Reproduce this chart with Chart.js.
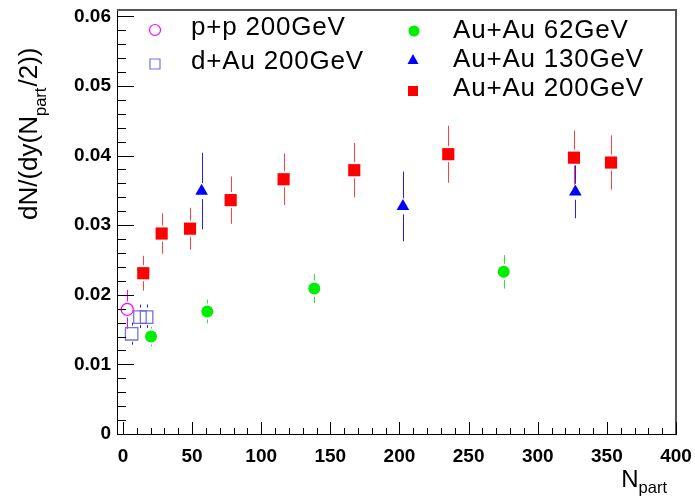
<!DOCTYPE html>
<html>
<head>
<meta charset="utf-8">
<script src="https://cdn.jsdelivr.net/npm/chart.js@4"></script>
<style>
  html, body { margin: 0; padding: 0; background: #fff; }
  #wrap { width: 695px; height: 502px; }
</style>
</head>
<body>
<div id="wrap"><canvas id="chart" width="695" height="502"></canvas></div>
<script>
// values: N_part and dN/(dy(N_part/2)) with +- errors
const ppX = [3.1];
const ppY = [0.0179];
const ppErr = [0.0028];

const dAuX = [6.3, 12.3, 17.1];
const dAuY = [0.0144, 0.0168, 0.0168];
const dAuErr = [0.0016, 0.0018, 0.0018];

const au62X = [20.3, 61, 138.4, 275.4];
const au62Y = [0.0140, 0.0176, 0.0209, 0.0233];
const au62Err = [0.0014, 0.0017, 0.0021, 0.0024];

const au130X = [56.9, 202.5, 327.2];
const au130Y = [0.0349, 0.0327, 0.0348];
const au130Err = [0.0055, 0.0050, 0.0038];

const au200X = [14.7, 28, 48.5, 77.9, 116.2, 167.3, 235.3, 326.2, 353];
const au200Y = [0.0231, 0.0288, 0.0295, 0.0336, 0.0366, 0.0379, 0.0402, 0.0397, 0.0390];
const au200Err = [0.0025, 0.0029, 0.0030, 0.0034, 0.0037, 0.0039, 0.0041, 0.0039, 0.0039];

const xTicks = [0, 50, 100, 150, 200, 250, 300, 350, 400];
const yTicks = [0, 0.01, 0.02, 0.03, 0.04, 0.05, 0.06];

const seriesLabels = ['p+p 200GeV', 'd+Au 200GeV', 'Au+Au 62GeV', 'Au+Au 130GeV', 'Au+Au 200GeV'];

const toPoints = (xs, ys) => xs.map((x, i) => ({ x: x, y: ys[i] }));

const FONT = '"Liberation Sans", Arial, Helvetica, sans-serif';

const datasets = [{
  label: seriesLabels[0],
  data: toPoints(ppX, ppY),
  errors: ppErr,
  errColor: '#ff00ff',
  pointStyle: 'circle',
  pointRadius: 6,
  pointBorderWidth: 1.3,
  pointBorderColor: '#ff00ff',
  pointBackgroundColor: 'rgba(0,0,0,0)'
}, {
  label: seriesLabels[1],
  data: toPoints(dAuX, dAuY),
  errors: dAuErr,
  errColor: '#2020ff',
  errDash: [3, 3],
  pointStyle: 'rect',
  pointRadius: 8.8,
  pointBorderWidth: 1.3,
  pointBorderColor: 'rgba(90,90,230,0.85)',
  pointBackgroundColor: 'rgba(0,0,0,0)'
}, {
  label: seriesLabels[2],
  data: toPoints(au62X, au62Y),
  errors: au62Err,
  errColor: 'rgba(0,220,0,0.8)',
  pointStyle: 'circle',
  pointRadius: 6,
  pointBorderWidth: 0,
  pointBackgroundColor: '#00ee00'
}, {
  label: seriesLabels[3],
  data: toPoints(au130X, au130Y),
  errors: au130Err,
  errColor: '#2020ff',
  pointStyle: 'triangle',
  pointRadius: 7.3,
  pointBorderWidth: 0,
  pointBackgroundColor: '#0000ff'
}, {
  label: seriesLabels[4],
  data: toPoints(au200X, au200Y),
  errors: au200Err,
  errColor: 'rgba(255,30,30,0.85)',
  pointStyle: 'rect',
  pointRadius: 8.6,
  pointBorderWidth: 0,
  pointBackgroundColor: '#ff0000'
}];

// vertical error bars, with a gap around the marker like ROOT draws them
const errorBars = {
  id: 'errorBars',
  beforeDatasetsDraw(chart) {
    const ctx = chart.ctx;
    const xs = chart.scales.x;
    const ys = chart.scales.y;
    const gap = 8;
    chart.data.datasets.forEach((ds) => {
      ctx.save();
      ctx.strokeStyle = ds.errColor;
      ctx.lineWidth = 1;
      ctx.setLineDash(ds.errDash || []);
      ds.data.forEach((p, i) => {
        const px = Math.round(xs.getPixelForValue(p.x)) + 0.5;
        const py = ys.getPixelForValue(p.y);
        const top = ys.getPixelForValue(p.y + ds.errors[i]);
        const bottom = ys.getPixelForValue(p.y - ds.errors[i]);
        ctx.beginPath();
        if (top < py - gap) {
          ctx.moveTo(px, top);
          ctx.lineTo(px, py - gap);
        }
        if (bottom > py + gap) {
          ctx.moveTo(px, py + gap);
          ctx.lineTo(px, bottom);
        }
        ctx.stroke();
      });
      ctx.restore();
    });
  }
};

// ROOT style frame: ticks pointing inwards, titles and legend
const frameAndText = {
  id: 'frameAndText',
  afterDraw(chart) {
    const ctx = chart.ctx;
    const a = chart.chartArea;
    const xs = chart.scales.x;
    const ys = chart.scales.y;

    ctx.save();
    ctx.strokeStyle = '#555';
    ctx.lineWidth = 2;
    ctx.beginPath();
    ctx.moveTo(a.left, a.top);
    ctx.lineTo(a.right, a.top);
    ctx.lineTo(a.right, a.bottom);
    ctx.stroke();

    ctx.strokeStyle = '#000';
    ctx.lineWidth = 1;
    ctx.beginPath();
    for (let v = 0; v <= 400.001; v += 10) {
      const px = Math.round(xs.getPixelForValue(v)) + 0.5;
      const len = (Math.round(v) % 50 === 0) ? 12 : 6;
      ctx.moveTo(px, a.bottom);
      ctx.lineTo(px, a.bottom - len);
    }
    for (let k = 0; k <= 30; k++) {
      const py = Math.round(ys.getPixelForValue(k * 0.002)) + 0.5;
      const len = (k % 5 === 0) ? 17 : 9;
      ctx.moveTo(a.left, py);
      ctx.lineTo(a.left + len, py);
    }
    ctx.stroke();

    // y title: dN/(dy(N_part/2))
    ctx.fillStyle = '#000';
    ctx.textBaseline = 'alphabetic';
    ctx.textAlign = 'left';
    ctx.save();
    ctx.translate(37, 220);
    ctx.rotate(-Math.PI / 2);
    ctx.font = '26px ' + FONT;
    const t1 = 'dN/(dy(N';
    ctx.fillText(t1, 0, 0);
    let off = ctx.measureText(t1).width;
    ctx.font = '16.5px ' + FONT;
    ctx.fillText('part', off, 9);
    off += ctx.measureText('part').width + 1;
    ctx.font = '26px ' + FONT;
    ctx.fillText('/2))', off, 0);
    ctx.restore();

    // x title: N_part
    ctx.font = '16.5px ' + FONT;
    const subW = ctx.measureText('part').width;
    ctx.font = '24px ' + FONT;
    const nW = ctx.measureText('N').width;
    const xEnd = 667;
    ctx.fillText('N', xEnd - subW - nW, 487);
    ctx.font = '16.5px ' + FONT;
    ctx.fillText('part', xEnd - subW, 493);

    // legend
    const rows = [
      { x: 155, y: 30, tx: 191, ty: 35, ds: 0 },
      { x: 155, y: 64, tx: 191, ty: 69, ds: 1 },
      { x: 414, y: 31, tx: 453, ty: 38, ds: 2 },
      { x: 413, y: 60, tx: 453, ty: 67, ds: 3 },
      { x: 413, y: 91, tx: 453, ty: 96, ds: 4 }
    ];
    rows.forEach((r) => {
      const ds = chart.data.datasets[r.ds];
      ctx.save();
      ctx.lineWidth = 1.2;
      ctx.beginPath();
      if (ds.pointStyle === 'circle') {
        ctx.arc(r.x, r.y, 5.5, 0, Math.PI * 2);
      } else if (ds.pointStyle === 'rect') {
        ctx.rect(r.x - 5, r.y - 5, 10, 10);
      } else {
        ctx.moveTo(r.x, r.y - 6);
        ctx.lineTo(r.x + 5.5, r.y + 4);
        ctx.lineTo(r.x - 5.5, r.y + 4);
        ctx.closePath();
      }
      if (ds.pointBorderWidth > 0) {
        ctx.strokeStyle = ds.pointBorderColor;
        ctx.stroke();
      } else {
        ctx.fillStyle = ds.pointBackgroundColor;
        ctx.fill();
      }
      ctx.restore();
      ctx.save();
      ctx.fillStyle = '#000';
      ctx.font = '26px ' + FONT;
      ctx.letterSpacing = '0.8px';
      ctx.fillText(ds.label, r.tx, r.ty);
      ctx.restore();
    });
    ctx.restore();
  }
};

const tickFont = { family: FONT, size: 19, weight: 'bold' };

new Chart(document.getElementById('chart'), {
  type: 'scatter',
  data: { datasets: datasets },
  options: {
    responsive: false,
    animation: false,
    layout: { padding: { left: 0, top: 10, right: 19, bottom: 0 } },
    plugins: {
      legend: { display: false },
      tooltip: { enabled: false }
    },
    scales: {
      x: {
        type: 'linear',
        min: -4.3,
        max: 400,
        afterBuildTicks: (scale) => { scale.ticks = xTicks.map((v) => ({ value: v })); },
        afterFit: (scale) => { scale.height = 68; scale.paddingLeft = 0; scale.paddingRight = 0; },
        grid: { display: false, drawTicks: false, tickLength: 0 },
        border: { display: true, color: '#000', width: 1 },
        ticks: { font: tickFont, color: '#000', padding: 11, maxRotation: 0, callback: (v) => String(v) }
      },
      y: {
        type: 'linear',
        min: 0,
        max: 0.0609,
        afterBuildTicks: (scale) => { scale.ticks = yTicks.map((v) => ({ value: v })); },
        afterFit: (scale) => { scale.width = 117; scale.paddingTop = 0; scale.paddingBottom = 0; },
        grid: { display: false, drawTicks: false, tickLength: 0 },
        border: { display: true, color: '#000', width: 1 },
        ticks: { font: tickFont, color: '#000', padding: 6, callback: (v) => (v === 0 ? '0' : v.toFixed(2)) }
      }
    }
  },
  plugins: [errorBars, frameAndText]
});
</script>
</body>
</html>
